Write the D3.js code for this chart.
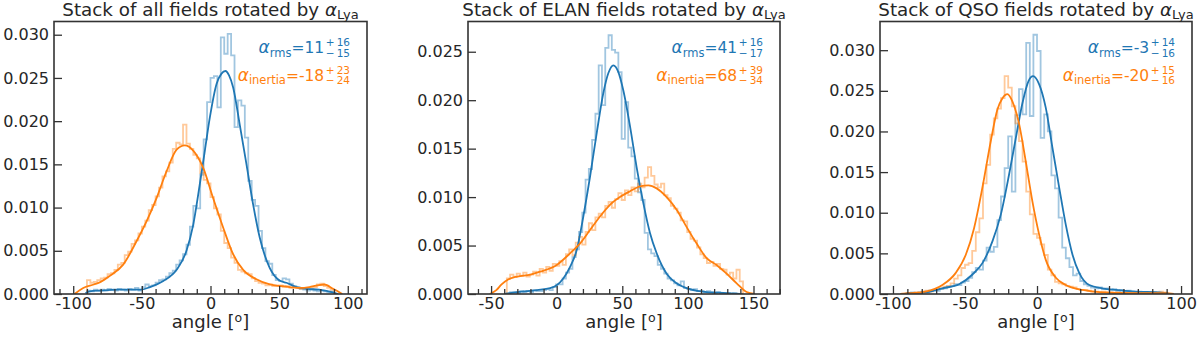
<!DOCTYPE html>
<html><head><meta charset="utf-8">
<script src="https://cdn.jsdelivr.net/npm/d3@7"></script>
<style>
body{margin:0;background:#fff}
text{font-family:"DejaVu Sans",sans-serif;fill:#262626}
</style></head>
<body>
<svg id="chart" width="1200" height="339"></svg>
<script>
// ---------------- DATA ----------------
const BIN = 2.5;
const allHistStart = -90, elanHistStart = -38, qsoHistStart = -90;

const allBlueHist = [0.0004,0.0003,0.0005,0.0004,0.0005,0.0004,0.0006,0.0005,0.0004,0.0006,0.0005,0.0004,0.0006,0.0005,0.0007,0.0004,
 0.0008,0.0011,0.0009,0.0010,0.0013,0.0016,0.0017,0.0020,0.0024,0.0027,0.0034,0.0039,
 0.0046,0.0057,0.0078,0.0102,0.0099,0.0138,0.0179,0.0222,0.0250,0.0252,0.0216,0.0297,0.0278,0.0301,0.0276,
 0.0193,0.0224,0.0218,0.0181,0.0131,0.0109,0.0102,0.0073,0.0053,0.0038,0.0035,0.0022,0.0016,0.0015,0.0018,0.0017,0.0012,0.0009,0.0008,0.0006,0.0005,0.0004,0.0005,0.0004,0.0003,0.0004,0.0003,0.0002,0.0003];
const allOrangeHist = [0.0016,0.0013,0.0014,0.0016,0.0018,0.0019,0.0023,0.0024,0.0028,0.0034,0.0036,0.0045,0.0049,0.0058,0.0062,0.0070,
 0.0078,0.0085,0.0097,0.0103,0.0113,0.0123,0.0136,0.0142,0.0152,0.0168,0.0175,0.0173,
 0.0196,0.0174,0.0168,0.0161,0.0157,0.0140,0.0132,0.0128,0.0112,0.0099,0.0092,0.0073,0.0059,0.0053,0.0042,
 0.0036,0.0028,0.0026,0.0024,0.0023,0.0018,0.0015,0.0013,0.0012,0.0010,0.0011,0.0009,0.0009,0.0010,0.0008,0.0009,0.0007,0.0008,0.0007,0.0006,0.0007,0.0006,0.0007,0.0008,0.0011,0.0012,0.0009,0.0007,0.0005];

const elanBlueHist = [0.0001,0.0002,0.0002,0.0001,0.0003,0.0002,0.0003,0.0002,0.0004,0.0003,0.0003,0.0004,0.0005,0.0004,0.0007,0.0010,
 0.0010,0.0016,0.0022,0.0026,0.0038,0.0046,0.0064,0.0084,0.0118,0.0129,0.0159,0.0186,0.0236,0.0195,0.0254,0.0267,
 0.0252,0.0249,0.0229,0.0160,0.0198,0.0151,0.0142,0.0119,0.0105,0.0097,0.0063,0.0046,0.0042,0.0039,0.0030,0.0026,
 0.0021,0.0016,0.0014,0.0011,0.0009,0.0013,0.0006,0.0005,0.0004,0.0005,0.0003,0.0003,0.0002,0.0003,0.0002,0.0001,
 0.0002,0.0001,0.0001,0.0001,0.0000,0.0001,0.0000,0.0000];
const elanOrangeHist = [0.0016,0.0020,0.0018,0.0021,0.0019,0.0022,0.0018,0.0020,0.0023,0.0019,0.0026,0.0022,0.0028,0.0024,0.0031,0.0029,
 0.0034,0.0030,0.0041,0.0046,0.0040,0.0053,0.0059,0.0051,0.0064,0.0073,0.0066,0.0079,0.0083,0.0079,0.0091,0.0095,
 0.0089,0.0098,0.0104,0.0097,0.0107,0.0102,0.0110,0.0106,0.0114,0.0110,0.0120,0.0131,0.0122,0.0113,0.0110,0.0114,
 0.0102,0.0099,0.0091,0.0088,0.0084,0.0076,0.0075,0.0064,0.0057,0.0055,0.0048,0.0041,0.0037,0.0032,0.0033,0.0029,
 0.0031,0.0026,0.0025,0.0020,0.0022,0.0016,0.0025,0.0013];

const qsoBlueHist = [0.0001,0.0002,0.0001,0.0002,0.0003,0.0002,0.0004,0.0005,0.0004,0.0006,0.0007,0.0009,
 0.0010,0.0012,0.0011,0.0014,0.0016,0.0020,0.0027,0.0032,0.0030,0.0041,0.0057,0.0052,0.0058,0.0091,0.0120,0.0155,0.0194,0.0126,0.0220,0.0252,0.0221,0.0309,0.0219,0.0319,
 0.0299,0.0192,0.0221,0.0200,0.0146,0.0130,0.0094,0.0057,0.0044,0.0033,0.0023,0.0025,0.0016,0.0012,0.0010,0.0008,0.0007,0.0008,0.0006,0.0007,
 0.0005,0.0006,0.0004,0.0005,0.0003,0.0004,0.0003,0.0002,0.0003,0.0002,0.0002,0.0001,0.0002,0.0001,0.0001,0.0001];
const qsoOrangeHist = [0.0001,0.0001,0.0002,0.0001,0.0003,0.0004,0.0003,0.0005,0.0006,0.0007,0.0009,0.0010,
 0.0013,0.0019,0.0023,0.0032,0.0036,0.0038,0.0053,0.0076,0.0093,0.0136,0.0159,0.0196,0.0216,0.0228,0.0241,0.0268,0.0254,0.0231,0.0210,0.0188,0.0163,0.0126,0.0098,0.0074,
 0.0069,0.0061,0.0048,0.0030,0.0023,0.0015,0.0013,0.0012,0.0010,0.0009,0.0008,0.0006,0.0005,0.0005,0.0004,0.0003,0.0003,0.0002,0.0003,0.0002,
 0.0002,0.0001,0.0002,0.0001,0.0001,0.0001,0.0002,0.0001,0.0001,0.0001,0.0001,0.0002,0.0001,0.0002,0.0003,0.0002];

const allBlueKde = [[-91,0.0001],[-88,0.0003],[-80,0.0004],[-68,0.0005],[-58,0.0005],[-51,0.0005],[-44,0.0008],[-34.4,0.0015],[-24.7,0.0028],[-17.5,0.005],[-12.6,0.008],[-7.8,0.0127],[-4.1,0.0166],[-0.5,0.0204],[4.4,0.0243],[8,0.0255],[10.9,0.0258],[13.5,0.0253],[16.5,0.0239],[21.3,0.0196],[26.2,0.015],[31,0.0104],[35.9,0.0065],[43.2,0.003],[50,0.0016],[55.3,0.0013],[62.6,0.0008],[70,0.0006],[79,0.0005],[89,0.0002],[93,0]];
const allOrangeKde = [[-99,0],[-92.7,0.0007],[-85,0.0011],[-80,0.0014],[-73.3,0.0021],[-63.6,0.0034],[-53.9,0.0061],[-46.6,0.0084],[-39.3,0.0111],[-32,0.0142],[-24.7,0.0167],[-18.7,0.0172],[-12.6,0.0166],[-5.3,0.0146],[1.9,0.0111],[9.2,0.0077],[16.5,0.0046],[23.8,0.0028],[33.5,0.0017],[43.2,0.0011],[52.9,0.0009],[65,0.0007],[72,0.0008],[78,0.0010],[83,0.0011],[89.3,0.0006],[96,0]];
const elanBlueKde = [[-40,0],[-30,0.0002],[-15,0.0004],[-5,0.0006],[0,0.0009],[5,0.0016],[10.2,0.0028],[15.2,0.0045],[20.3,0.008],[25.4,0.0121],[30.5,0.0166],[35.5,0.0207],[39.4,0.0228],[43.2,0.0236],[47,0.0229],[50.8,0.021],[55.9,0.0173],[60.9,0.0131],[66,0.0094],[71.1,0.0063],[76.2,0.0042],[83.8,0.0021],[91.4,0.0011],[101.6,0.0005],[114.3,0.0002],[129.5,0.0001],[140,0]];
const elanOrangeKde = [[-51,0],[-46,0.0004],[-42,0.001],[-37,0.0015],[-30,0.0018],[-20,0.002],[-12.7,0.0023],[0,0.003],[10.2,0.0042],[17.7,0.0052],[25.4,0.0066],[33,0.008],[40.6,0.0092],[48.2,0.01],[55.9,0.0106],[63.5,0.0111],[69.9,0.0112],[76.2,0.0109],[83.8,0.01],[91.4,0.0087],[99.1,0.0069],[106.7,0.0052],[114.3,0.0037],[121.9,0.003],[129.5,0.0021],[137.2,0.0011],[144.8,0.0002],[151,0]];
const qsoBlueKde = [[-92,0],[-88,0.0001],[-77.3,0.0002],[-65.7,0.0007],[-54.1,0.0012],[-44.8,0.0024],[-37.9,0.0038],[-30.9,0.0065],[-25.1,0.0098],[-19.4,0.0147],[-14.7,0.0192],[-10.1,0.0235],[-5.9,0.0262],[-2.7,0.0268],[1.5,0.0258],[6.1,0.0229],[10.7,0.018],[15.4,0.0131],[20,0.0085],[24.7,0.0048],[29.3,0.0026],[36.3,0.0011],[45.5,0.0007],[54.8,0.0005],[68.7,0.0003],[84.9,0.0002],[92,0]];
const qsoOrangeKde = [[-95,0],[-88.9,0.0001],[-77.3,0.0003],[-65.7,0.0011],[-56.4,0.0026],[-49.5,0.0048],[-43.7,0.0081],[-37.9,0.0131],[-32.1,0.0188],[-27.5,0.0227],[-24,0.0241],[-20.5,0.0246],[-17.1,0.0237],[-12.4,0.0209],[-7.8,0.0163],[-3.2,0.0114],[1.5,0.0073],[6.1,0.0042],[13.1,0.002],[20,0.0011],[31.6,0.0005],[45.5,0.0002],[68.7,0.0001],[89.5,0.0001],[95,0]];

const titleNames = ["all", "ELAN", "QSO"];
const rmsText = [["11","16","15"], ["41","16","17"], ["-3","14","16"]];
const inertiaText = [["-18","23","24"], ["68","39","34"], ["-20","15","16"]];
const xMajorTicks = [[-100,-50,0,50,100],[-50,0,50,100,150],[-100,-50,0,50,100]];
const yTicks = [[0,0.005,0.010,0.015,0.020,0.025,0.030],[0,0.005,0.010,0.015,0.020,0.025],[0,0.005,0.010,0.015,0.020,0.025,0.030]];

// ---------------- LAYOUT ----------------
const BLUE = "#1f77b4", ORANGE = "#ff7f0e";
const TOP = 21.5, BOTTOM = 294;
const panels = [
  {left:54, right:367, xdom:[-114,114], ymax:0.03153, hs:allHistStart, bh:allBlueHist, oh:allOrangeHist, bk:allBlueKde, ok:allOrangeKde},
  {left:468, right:780, xdom:[-67.6,170.2], ymax:0.02812, hs:elanHistStart, bh:elanBlueHist, oh:elanOrangeHist, bk:elanBlueKde, ok:elanOrangeKde},
  {left:880, right:1192, xdom:[-109,107.6], ymax:0.03353, hs:qsoHistStart, bh:qsoBlueHist, oh:qsoOrangeHist, bk:qsoBlueKde, ok:qsoOrangeKde}
];
const TICK_FS = 16, TITLE_FS = 18.3, LABEL_FS = 18;

const svg = d3.select("#chart");

panels.forEach((p, i) => {
  const x = d3.scaleLinear().domain(p.xdom).range([p.left, p.right]);
  const y = d3.scaleLinear().domain([0, p.ymax]).range([BOTTOM, TOP]);
  const g = svg.append("g");

  const clipId = "clip" + i;
  g.append("clipPath").attr("id", clipId).append("rect")
    .attr("x", p.left).attr("y", TOP).attr("width", p.right - p.left).attr("height", BOTTOM - TOP);
  const plot = g.append("g").attr("clip-path", `url(#${clipId})`);

  const line = d3.line().x(d => x(d[0])).y(d => y(d[1]));
  const stepPts = (start, vals) => {
    const pts = [[start, 0]];
    vals.forEach((v, k) => { pts.push([start + k*BIN, v]); pts.push([start + (k+1)*BIN, v]); });
    pts.push([start + vals.length*BIN, 0]);
    return pts;
  };
  plot.append("path").attr("d", line(stepPts(p.hs, p.bh))).attr("fill","none")
    .attr("stroke", BLUE).attr("stroke-opacity", 0.42).attr("stroke-width", 1.8);
  plot.append("path").attr("d", line(stepPts(p.hs, p.oh))).attr("fill","none")
    .attr("stroke", ORANGE).attr("stroke-opacity", 0.42).attr("stroke-width", 1.8);
  const kline = d3.line().x(d => x(d[0])).y(d => y(d[1])).curve(d3.curveMonotoneX);
  plot.append("path").attr("d", kline(p.bk)).attr("fill","none").attr("stroke", BLUE).attr("stroke-width", 1.8);
  plot.append("path").attr("d", kline(p.ok)).attr("fill","none").attr("stroke", ORANGE).attr("stroke-width", 1.8);

  // minor x ticks
  const [d0, d1] = p.xdom;
  const minor = d3.range(Math.ceil(d0/10)*10, d1 + 0.001, 10).filter(v => v % 50 !== 0);
  const xMinor = g.append("g").attr("transform", `translate(0,${BOTTOM})`)
    .call(d3.axisBottom(x).tickValues(minor).tickSizeInner(-5).tickSizeOuter(0).tickFormat(""));
  xMinor.select(".domain").remove();
  xMinor.selectAll("line").attr("stroke", "#333").attr("stroke-width", 1.3);

  const xAx = g.append("g").attr("transform", `translate(0,${BOTTOM})`)
    .call(d3.axisBottom(x).tickValues(xMajorTicks[i]).tickSizeInner(-8).tickSizeOuter(0).tickPadding(3.5).tickFormat(d => String(d)));
  xAx.select(".domain").remove();
  xAx.selectAll("line").attr("stroke", "#333").attr("stroke-width", 1.3);
  xAx.selectAll("text").attr("font-size", TICK_FS).attr("fill", "#262626").style("font-family", '"DejaVu Sans"');

  const yAx = g.append("g").attr("transform", `translate(${p.left},0)`)
    .call(d3.axisLeft(y).tickValues(yTicks[i]).tickSizeInner(-8).tickSizeOuter(0).tickPadding(5).tickFormat(d3.format(".3f")));
  yAx.select(".domain").remove();
  yAx.selectAll("line").attr("stroke", "#333").attr("stroke-width", 1.3);
  yAx.selectAll("text").attr("font-size", TICK_FS).attr("fill", "#262626").style("font-family", '"DejaVu Sans"');

  // frame
  g.append("rect").attr("x", p.left).attr("y", TOP).attr("width", p.right - p.left).attr("height", BOTTOM - TOP)
    .attr("fill", "none").attr("stroke", "#333").attr("stroke-width", 1.6);

  // title
  const cx = (p.left + p.right) / 2;
  const t = g.append("text").attr("x", cx).attr("y", 15.5).attr("text-anchor", "middle").attr("font-size", TITLE_FS);
  t.append("tspan").text(`Stack of ${titleNames[i]} fields rotated by `);
  t.append("tspan").attr("font-style", "italic").text("α");
  t.append("tspan").attr("font-size", 13).attr("dy", 3).text("Lya");

  // x label
  const xl = g.append("text").attr("x", cx).attr("y", 328).attr("text-anchor", "middle").attr("font-size", LABEL_FS);
  xl.append("tspan").text("angle [");
  xl.append("tspan").attr("font-size", 12.5).attr("dy", -6.5).text("o");
  xl.append("tspan").attr("dy", 6.5).text("]");

  // annotations
  const annot = (yb, sub, vals, color) => {
    const ag = g.append("g");
    const m = ag.append("text").attr("x", 0).attr("y", yb).attr("font-size", 15.5).style("fill", color);
    m.append("tspan").attr("font-style", "italic").attr("font-size", 17).text("α");
    m.append("tspan").attr("font-size", 11.5).attr("dy", 3.5).text(sub);
    m.append("tspan").attr("dy", -3.5).text("=" + vals[0]);
    const w1 = m.node().getComputedTextLength();
    const sp = ag.append("text").attr("x", w1 + 1.5).attr("y", yb - 6.8).attr("font-size", 10.5).style("fill", color).text("+\u2009" + vals[1]);
    const sb = ag.append("text").attr("x", w1 + 1.5).attr("y", yb + 3.5).attr("font-size", 10.5).style("fill", color).text("\u2212\u2009" + vals[2]);
    const w2 = Math.max(sp.node().getComputedTextLength(), sb.node().getComputedTextLength());
    ag.attr("transform", `translate(${p.right - 17 - (w1 + 1.5 + w2)},0)`);
  };
  annot(53, "rms", rmsText[i], BLUE);
  annot(80.7, "inertia", inertiaText[i], ORANGE);
});
</script>
</body></html>
